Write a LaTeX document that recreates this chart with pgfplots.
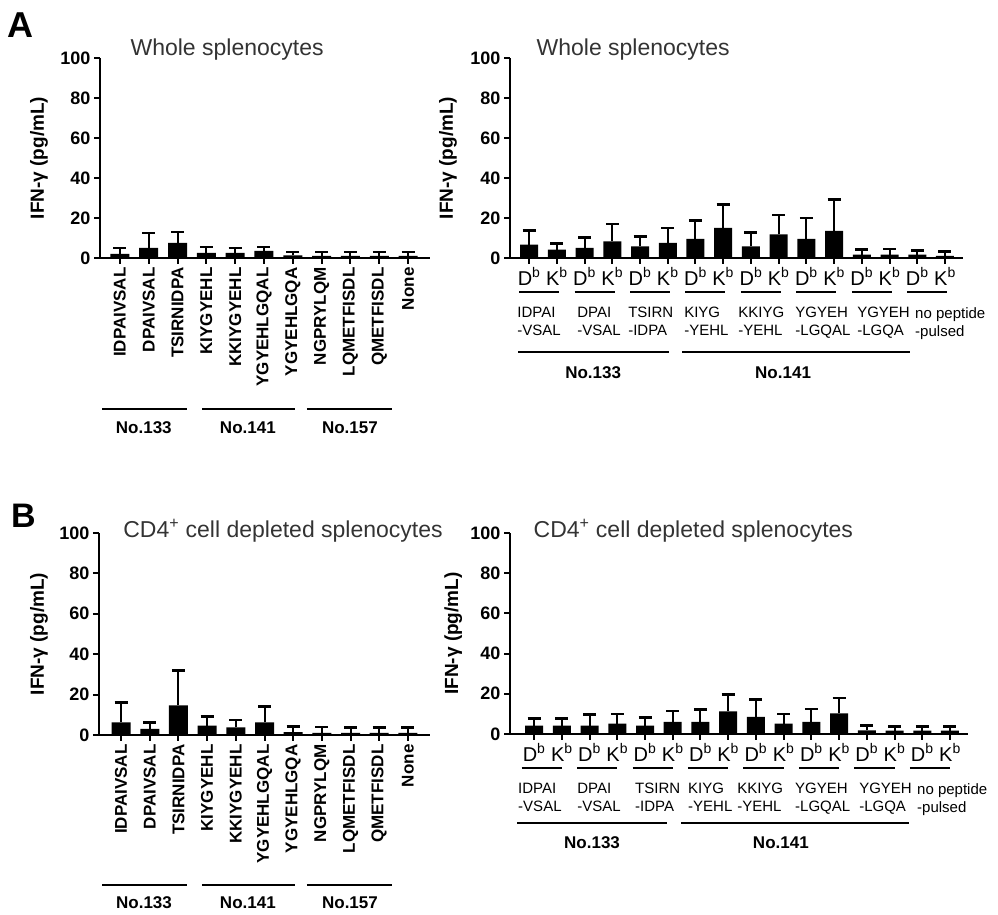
\documentclass[border=0pt]{standalone}
\usepackage{fontspec}
\setmainfont{Liberation Sans}
\usepackage{pgfplots}
\pgfplotsset{compat=1.18}
\usepackage{pgfplotstable}

\newcommand{\fs}[1]{\fontsize{#1}{#1}\selectfont}
\newcommand{\Db}{D\textsuperscript{b}}
\newcommand{\Kb}{K\textsuperscript{b}}

% whole splenocytes, single peptides
\pgfplotstableread{
x y e
0 2.0 3.0
1 5.0 7.5
2 7.5 5.5
3 2.5 3.0
4 2.5 2.5
5 3.5 2.0
6 1.3 1.8
7 1.1 1.9
8 1.1 1.9
9 1.1 1.9
10 1.1 1.9
}\wholepep
% whole splenocytes, Db / Kb
\pgfplotstableread{
x y e
0 6.7 7.0
1 4.2 3.0
2 5.0 5.3
3 8.3 8.7
4 5.8 5.0
5 7.5 7.5
6 9.5 9.2
7 15.0 11.7
8 5.8 7.0
9 11.8 9.7
10 9.5 10.5
11 13.5 15.8
12 1.7 2.5
13 1.7 2.8
14 1.7 2.1
15 1.1 2.2
}\wholemhc
% CD4 depleted, single peptides
\pgfplotstableread{
x y e
0 6.3 9.7
1 3.0 3.3
2 14.7 17.3
3 4.7 4.5
4 3.8 3.7
5 6.3 7.7
6 1.4 2.8
7 1.1 2.9
8 1.1 2.7
9 1.1 2.7
10 1.1 2.7
}\cdpep
% CD4 depleted, Db / Kb
\pgfplotstableread{
x y e
0 4.2 3.5
1 4.2 3.5
2 4.2 5.5
3 5.2 4.8
4 4.2 4.1
5 6.0 5.5
6 6.0 6.2
7 11.2 8.5
8 8.5 8.7
9 5.2 4.8
10 6.0 6.5
11 10.2 7.6
12 1.8 2.5
13 1.7 2.1
14 1.7 2.1
15 1.7 2.1
}\cdmhc

\tikzset{
  grp/.style={line width=1.3pt},
  grplab/.style={font=\bfseries\fs{17}},
  pep/.style={anchor=north west, align=left, inner sep=0pt, font=\fontsize{15}{18}\selectfont},
}

\pgfplotsset{
  panel/.style={
    scale only axis, clip=false,
    axis lines*=left,
    axis line style={line width=2.4pt},
    ymin=0, ymax=100, ytick={0,20,...,100},
    yticklabels={0,20,40,60,80,100},
    tick align=outside, major tick length=6pt,
    tick style={black, line width=2pt},
    y tick label style={font=\bfseries\fs{18}},
    ylabel={IFN-γ (pg/mL)},
    ylabel style={font=\bfseries\fs{19}, anchor=center},
    title style={anchor=base west, font=\fs{23}, text=black!80},
    ybar, bar shift=0pt,
  },
  peppanel/.style={
    panel, xtick={0,...,10},
    xticklabels={IDPAIVSAL,DPAIVSAL,TSIRNIDPA,KIYGYEHL,KKIYGYEHL,YGYEHLGQAL,YGYEHLGQA,NGPRYLQM,LQMETFISDL,QMETFISDL,None},
    x tick label style={rotate=90, anchor=east, font=\bfseries\fs{17}},
    bar width=19pt,
  },
  mhcpanel/.style={
    panel, xtick={0,...,15},
    xticklabels={\Db,\Kb,\Db,\Kb,\Db,\Kb,\Db,\Kb,\Db,\Kb,\Db,\Kb,\Db,\Kb,\Db,\Kb},
    x tick label style={font=\fs{20}},
    bar width=18pt,
  },
  barsty/.style={fill=black, draw=none,
    error bars/.cd, y dir=plus, y explicit,
    error bar style={line width=2pt},
    error mark options={rotate=90, line width=2.5pt, mark size=6.5pt}},
}

\begin{document}
\begin{tikzpicture}
\path[use as bounding box] (0pt,0pt) rectangle (998pt,915pt);

\node[font=\bfseries\fs{36}, anchor=base west, inner sep=0pt] at (7pt,877pt) {A};
\node[font=\bfseries\fs{34}, anchor=base west, inner sep=0pt] at (11pt,387pt) {B};

% A left
\begin{axis}[peppanel, at={(100pt,657pt)}, anchor=south west,
  width=330pt, height=200pt, xmin=-0.69, xmax=10.76,
  ylabel style={at={(axis description cs:-0.185,0.5)}},
  title={Whole splenocytes}, title style={at={(axis description cs:0.082,0.98)}}]
\addplot[barsty] table[x=x, y=y, y error=e] {\wholepep};
\draw[grp] (axis cs:-0.62,-75.5) -- (axis cs:2.33,-75.5);
\draw[grp] (axis cs:2.85,-75.5) -- (axis cs:6.07,-75.5);
\draw[grp] (axis cs:6.49,-75.5) -- (axis cs:9.44,-75.5);
\node[grplab] at (axis cs:0.83,-85) {No.133};
\node[grplab] at (axis cs:4.44,-85) {No.141};
\node[grplab] at (axis cs:7.98,-85) {No.157};
\end{axis}

% A right
\begin{axis}[mhcpanel, at={(510pt,657pt)}, anchor=south west,
  width=453pt, height=200pt, xmin=-0.69, xmax=15.65,
  ylabel style={at={(axis description cs:-0.137,0.5)}},
  title={Whole splenocytes}, title style={at={(axis description cs:0.051,0.98)}}]
\addplot[barsty] table[x=x, y=y, y error=e] {\wholemhc};
\draw[grp] (axis cs:-0.36,-17) -- (axis cs:1.08,-17);
\draw[grp] (axis cs:1.64,-17) -- (axis cs:3.08,-17);
\draw[grp] (axis cs:3.64,-17) -- (axis cs:5.08,-17);
\draw[grp] (axis cs:5.64,-17) -- (axis cs:7.08,-17);
\draw[grp] (axis cs:7.64,-17) -- (axis cs:9.08,-17);
\draw[grp] (axis cs:9.64,-17) -- (axis cs:11.08,-17);
\draw[grp] (axis cs:11.64,-17) -- (axis cs:13.08,-17);
\draw[grp] (axis cs:13.64,-17) -- (axis cs:15.08,-17);
\node[pep] at (axis cs:-0.43,-24.5) {IDPAI\\-VSAL};
\node[pep] at (axis cs:1.73,-24.5) {DPAI\\-VSAL};
\node[pep] at (axis cs:3.57,-24.5) {TSIRN\\-IDPA};
\node[pep] at (axis cs:5.59,-24.5) {KIYG\\-YEHL};
\node[pep] at (axis cs:7.54,-24.5) {KKIYG\\-YEHL};
\node[pep] at (axis cs:9.60,-24.5) {YGYEH\\-LGQAL};
\node[pep] at (axis cs:11.83,-24.5) {YGYEH\\-LGQA};
\node[pep] at (axis cs:13.92,-24.5) {no peptide\\-pulsed};
\draw[grp] (axis cs:-0.40,-47) -- (axis cs:5.05,-47);
\draw[grp] (axis cs:5.52,-47) -- (axis cs:13.74,-47);
\node[grplab] at (axis cs:2.31,-57.5) {No.133};
\node[grplab] at (axis cs:9.16,-57.5) {No.141};
\end{axis}

% B left
\begin{axis}[peppanel, at={(99pt,180pt)}, anchor=south west,
  width=331pt, height=202pt, xmin=-0.77, xmax=10.77,
  ylabel style={at={(axis description cs:-0.181,0.5)}},
  title={CD4\textsuperscript{+} cell depleted splenocytes},
  title style={at={(axis description cs:0.063,0.95)}}]
\addplot[barsty] table[x=x, y=y, y error=e] {\cdpep};
\draw[grp] (axis cs:-0.66,-74.3) -- (axis cs:2.30,-74.3);
\draw[grp] (axis cs:2.82,-74.3) -- (axis cs:6.06,-74.3);
\draw[grp] (axis cs:6.48,-74.3) -- (axis cs:9.44,-74.3);
\node[grplab] at (axis cs:0.80,-83.2) {No.133};
\node[grplab] at (axis cs:4.42,-83.2) {No.141};
\node[grplab] at (axis cs:7.98,-83.2) {No.157};
\end{axis}

% B right
\begin{axis}[mhcpanel, at={(510pt,181pt)}, anchor=south west,
  width=458pt, height=201pt, xmin=-0.87, xmax=15.65,
  ylabel style={at={(axis description cs:-0.124,0.5)}},
  title={CD4\textsuperscript{+} cell depleted splenocytes},
  title style={at={(axis description cs:0.044,0.95)}}]
\addplot[barsty] table[x=x, y=y, y error=e] {\cdmhc};
\draw[grp] (axis cs:-0.45,-16.9) -- (axis cs:1.0,-16.9);
\draw[grp] (axis cs:1.55,-16.9) -- (axis cs:3.0,-16.9);
\draw[grp] (axis cs:3.55,-16.9) -- (axis cs:5.0,-16.9);
\draw[grp] (axis cs:5.55,-16.9) -- (axis cs:7.0,-16.9);
\draw[grp] (axis cs:7.55,-16.9) -- (axis cs:9.0,-16.9);
\draw[grp] (axis cs:9.55,-16.9) -- (axis cs:11.0,-16.9);
\draw[grp] (axis cs:11.55,-16.9) -- (axis cs:13.0,-16.9);
\draw[grp] (axis cs:13.55,-16.9) -- (axis cs:15.0,-16.9);
\node[pep] at (axis cs:-0.58,-24.4) {IDPAI\\-VSAL};
\node[pep] at (axis cs:1.55,-24.4) {DPAI\\-VSAL};
\node[pep] at (axis cs:3.64,-24.4) {TSIRN\\-IDPA};
\node[pep] at (axis cs:5.55,-24.4) {KIYG\\-YEHL};
\node[pep] at (axis cs:7.32,-24.4) {KKIYG\\-YEHL};
\node[pep] at (axis cs:9.41,-24.4) {YGYEH\\-LGQAL};
\node[pep] at (axis cs:11.72,-24.4) {YGYEH\\-LGQA};
\node[pep] at (axis cs:13.81,-24.4) {no peptide\\-pulsed};
\draw[grp] (axis cs:-0.61,-44.3) -- (axis cs:4.80,-44.3);
\draw[grp] (axis cs:5.30,-44.3) -- (axis cs:13.52,-44.3);
\node[grplab] at (axis cs:2.09,-54.2) {No.133};
\node[grplab] at (axis cs:8.90,-54.2) {No.141};
\end{axis}
\end{tikzpicture}
\end{document}
